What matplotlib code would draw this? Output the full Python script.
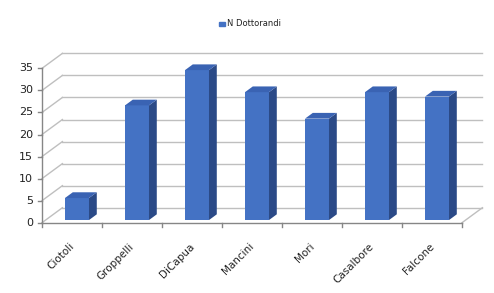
import matplotlib.pyplot as plt
import numpy as np

# dati
nomi = ["Ciotoli", "Groppelli", "DiCapua", "Mancini", "Mori", "Casalbore", "Falcone"]
dottorandi = [5, 26, 34, 29, 23, 29, 28]
tacche_y = [0, 5, 10, 15, 20, 25, 30, 35]

# profondita' finta 3D (in unita' dei dati)
DX, DY = 0.34, 3.4        # parete di fondo
SDX, SDY = 0.13, 1.3      # profondita' della barra
BX, BY = 0.083, 0.6       # spostamento della barra dal piano frontale
larg = 0.4

fronte = "#4472C4"
lato = "#2B4A87"
sopra = "#3A63B3"
griglia = "#BFBFBF"
asse = "#868686"

fig = plt.figure(figsize=(4.94, 2.93), dpi=100)
ax = fig.add_axes([0, 0, 1, 1])
ax.set_xlim(-0.7, 7.533)
ax.set_ylim(-15.94, 50.5)
ax.axis("off")

n = len(nomi)

# parete di fondo + parete sinistra
for k in tacche_y:
    ax.plot([DX, n + DX], [k + DY, k + DY], color=griglia, lw=1, zorder=1)
    ax.plot([0, DX], [k, k + DY], color=griglia, lw=1, zorder=1)
# pavimento
ax.plot([n, n + DX], [0, DY], color=griglia, lw=1, zorder=1)
ax.plot([0, n], [0, 0], color=asse, lw=1, zorder=4)
# asse y frontale
ax.plot([0, 0], [0, 35], color=asse, lw=1, zorder=4)
for k in tacche_y:
    ax.plot([-0.06, 0], [k, k], color=asse, lw=1, zorder=4)
    ax.text(-0.15, k, str(k), ha="right", va="center", fontsize=8, color="#222222")
for i in range(n + 1):
    ax.plot([i, i], [0, -0.9], color=asse, lw=1, zorder=4)

# barre
x = np.arange(n) + 0.5 + BX
ax.bar(x, dottorandi, width=larg, bottom=BY, color=fronte, zorder=3)
for xi, v in zip(x, dottorandi):
    x1 = xi + larg / 2
    x0 = xi - larg / 2
    top = BY + v
    ax.fill([x1, x1 + SDX, x1 + SDX, x1], [BY, BY + SDY, top + SDY, top],
            color=lato, zorder=3, lw=0)
    ax.fill([x0, x1, x1 + SDX, x0 + SDX], [top, top, top + SDY, top + SDY],
            color=sopra, zorder=3, lw=0)

# etichette categorie
for i, nome in enumerate(nomi):
    ax.text(i + 0.45, -4.2, nome, rotation=45, ha="right", va="top",
            fontsize=7.5, color="#222222", rotation_mode="anchor")

# legenda
ax.add_patch(plt.Rectangle(((219 - 42) / 60, (222.7 - 26) / 4.41), 6 / 60, 4 / 4.41,
                           color=fronte, zorder=5))
ax.text((227 - 42) / 60, (222.7 - 23.5) / 4.41, "N Dottorandi", ha="left", va="center",
        fontsize=6, color="#222222")

fig.savefig("out.png", dpi=100)
